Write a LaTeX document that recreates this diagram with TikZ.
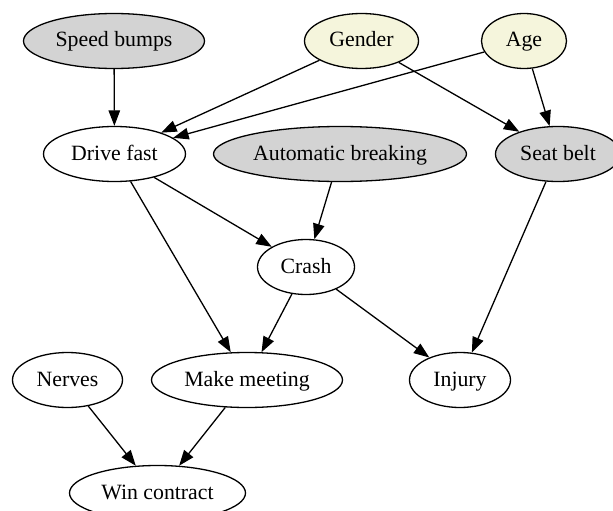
\documentclass[tikz,border=0pt]{standalone}
\usepackage{fontspec}
\setmainfont{Liberation Serif}
\usetikzlibrary{shapes.geometric,arrows.meta}
\definecolor{varfill}{HTML}{D3D3D3}
\definecolor{demofill}{HTML}{F5F5DC}
\begin{document}
\begin{tikzpicture}[x=1pt,y=-1pt,
  var/.style={ellipse,draw=black,line width=1.3pt,inner sep=0pt,
    minimum height=55pt,text height=15pt,text depth=3pt,
    font=\fontsize{21.8}{26}\selectfont},
  plain/.style={var,fill=white},
  ctrl/.style={var,fill=varfill},
  demo/.style={var,fill=demofill},
  edge/.style={-{Triangle[length=15.5pt,width=11.5pt]},line width=1.3pt}]
\useasboundingbox (0,0) rectangle (613,511);
\clip (0,0) rectangle (613,511);
\fill[white] (0,0) rectangle (613,511);

% first row
\node[ctrl, minimum width=181pt] (bumps)  at (114,41)   {Speed bumps};
\node[demo, minimum width=114pt] (gender) at (361.5,41) {Gender};
\node[demo, minimum width=85pt]  (age)    at (524,41)   {Age};
% second row
\node[plain,minimum width=142pt] (fast)   at (114.5,154){Drive fast};
\node[ctrl, minimum width=253pt] (brake)  at (340,154)  {Automatic breaking};
\node[ctrl, minimum width=125pt] (belt)   at (558,154)  {Seat belt};
% third row
\node[plain,minimum width=97pt]  (crash)  at (306,267)  {Crash};
% fourth row
\node[plain,minimum width=110pt] (nerves) at (67.5,380) {Nerves};
\node[plain,minimum width=191pt] (meet)   at (247,380)  {Make meeting};
\node[plain,minimum width=101pt] (injury) at (460,380)  {Injury};
% fifth row
\node[plain,minimum width=176pt] (win)    at (157.5,493){Win contract};

\draw[edge] (bumps)  -- (fast);
\draw[edge] (gender) -- (fast);
\draw[edge] (age)    -- (fast);
\draw[edge] (gender) -- (belt);
\draw[edge] (age)    -- (belt);
\draw[edge] (fast)   -- (crash);
\draw[edge] (fast)   -- (meet);
\draw[edge] (brake)  -- (crash);
\draw[edge] (crash)  -- (meet);
\draw[edge] (crash)  -- (injury);
\draw[edge] (belt)   -- (injury);
\draw[edge] (nerves) -- (win);
\draw[edge] (meet)   -- (win);
\end{tikzpicture}
\end{document}
